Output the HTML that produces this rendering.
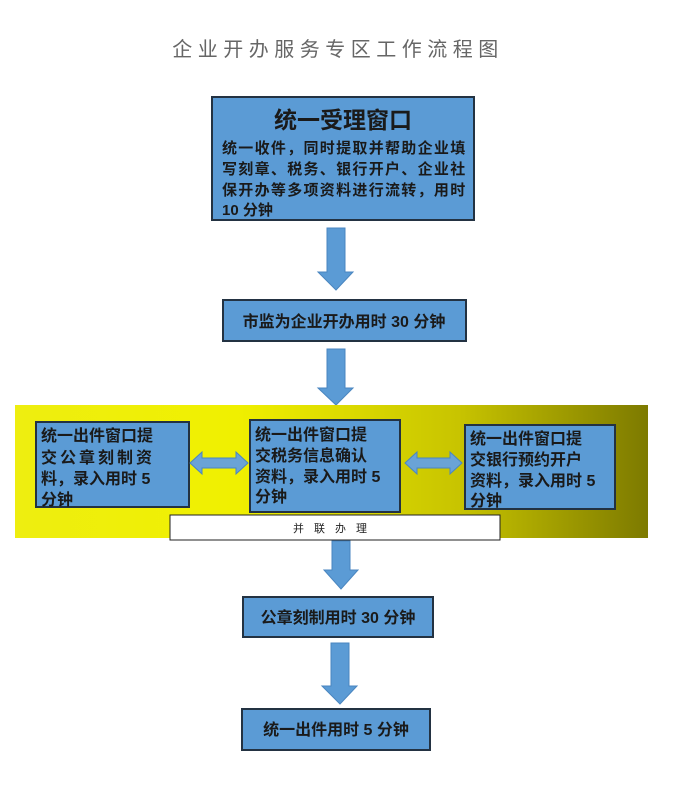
<!DOCTYPE html>
<html><head><meta charset="utf-8"><style>
body{margin:0;background:#fff;}
svg{display:block}
text{font-family:"Liberation Sans","Noto Sans CJK SC",sans-serif;}
.b{font-weight:bold;fill:#1a1a1a;}
</style></head><body>
<svg width="676" height="785" viewBox="0 0 676 785" xmlns="http://www.w3.org/2000/svg">
<defs>
<linearGradient id="g" x1="0" x2="1" y1="0" y2="0">
<stop offset="0" stop-color="#eeee10"/><stop offset="0.35" stop-color="#f0f000"/><stop offset="0.7" stop-color="#c8c400"/><stop offset="1" stop-color="#7d7a00"/>
</linearGradient>
</defs>
<text x="338" y="56" text-anchor="middle" font-size="20" fill="#666" letter-spacing="5.5">企业开办服务专区工作流程图</text>
<rect x="212" y="97" width="262" height="123" fill="#5b9bd5" stroke="#233242" stroke-width="2"/>
<text x="343" y="128" text-anchor="middle" font-size="23" class="b">统一受理窗口</text>
<text x="222" y="153" font-size="15" class="b" letter-spacing="1.3">统一收件，同时提取并帮助企业填</text>
<text x="222" y="174" font-size="15" class="b" letter-spacing="1.3">写刻章、税务、银行开户、企业社</text>
<text x="222" y="195" font-size="15" class="b" letter-spacing="1.3">保开办等多项资料进行流转，用时</text>
<text x="222" y="215" font-size="15" class="b">10 分钟</text>
<g fill="#5b9bd5" stroke="#4a86c0" stroke-width="1">
<polygon points="327,228 345,228 345,272 353,272 336,290 318,272 327,272"/>
<polygon points="327,349 345,349 345,388 353,388 336,405 318,388 327,388"/>
</g>
<rect x="223" y="300" width="243" height="41" fill="#5b9bd5" stroke="#233242" stroke-width="2"/>
<text x="344" y="327" text-anchor="middle" font-size="16" class="b">市监为企业开办用时 30 分钟</text>
<rect x="15" y="405" width="633" height="133" fill="url(#g)"/>
<rect x="36" y="422" width="153" height="85" fill="#5b9bd5" stroke="#233242" stroke-width="2"/>
<text font-size="16" class="b"><tspan x="41" y="441">统一出件窗口提</tspan><tspan x="41" y="463" letter-spacing="3">交公章刻制资</tspan><tspan x="41" y="484">料，录入用时 5</tspan><tspan x="41" y="505">分钟</tspan></text>
<rect x="250" y="420" width="150" height="92" fill="#5b9bd5" stroke="#233242" stroke-width="2"/>
<text font-size="16" class="b"><tspan x="255" y="440">统一出件窗口提</tspan><tspan x="255" y="461">交税务信息确认</tspan><tspan x="255" y="482">资料，录入用时 5</tspan><tspan x="255" y="502">分钟</tspan></text>
<rect x="465" y="425" width="150" height="84" fill="#5b9bd5" stroke="#233242" stroke-width="2"/>
<text font-size="16" class="b"><tspan x="470" y="444">统一出件窗口提</tspan><tspan x="470" y="465">交银行预约开户</tspan><tspan x="470" y="486">资料，录入用时 5</tspan><tspan x="470" y="506">分钟</tspan></text>
<g fill="#6aa3d6" stroke="#4a86c0" stroke-width="1">
<polygon points="190,463 202,452 202,458 236,458 236,452 248,463 236,474 236,468 202,468 202,474"/>
<polygon points="405,463 417,452 417,458 450,458 450,452 462,463 450,474 450,468 417,468 417,474"/>
</g>
<rect x="170" y="515" width="330" height="25" fill="#fff" stroke="#222" stroke-width="1"/>
<text x="335" y="532" text-anchor="middle" font-size="11" fill="#222" letter-spacing="10">并联办理</text>
<g fill="#5b9bd5" stroke="#4a86c0" stroke-width="1">
<polygon points="332,541 350,541 350,570 358,570 341,589 324,570 332,570"/>
<polygon points="331,643 349,643 349,686 357,686 340,704 322,686 331,686"/>
</g>
<rect x="243" y="597" width="190" height="40" fill="#5b9bd5" stroke="#233242" stroke-width="2"/>
<text x="338" y="623" text-anchor="middle" font-size="16" class="b">公章刻制用时 30 分钟</text>
<rect x="242" y="709" width="188" height="41" fill="#5b9bd5" stroke="#233242" stroke-width="2"/>
<text x="336" y="735" text-anchor="middle" font-size="16" class="b">统一出件用时 5 分钟</text>
</svg>
</body></html>
